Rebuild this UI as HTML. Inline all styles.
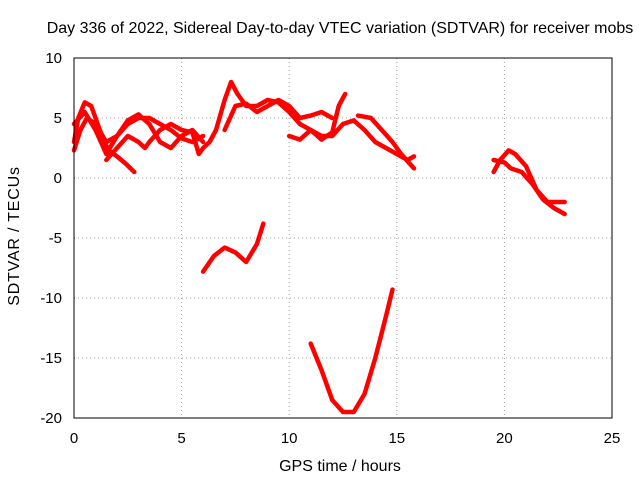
<!DOCTYPE html>
<html><head><meta charset="utf-8"><style>
body{margin:0;background:#fff}
svg{font-family:"Liberation Sans",sans-serif;font-size:15px}
</style></head><body>
<svg id="c" width="640" height="480">
<rect width="640" height="480" fill="#fff"/>
<text x="340" y="33" text-anchor="middle" style="font-size:16px">Day 336 of 2022, Sidereal Day-to-day VTEC variation (SDTVAR) for receiver mobs</text>
<text x="340" y="471" text-anchor="middle" style="font-size:16px">GPS time / hours</text>
<text transform="translate(19,236) rotate(-90)" text-anchor="middle" style="font-size:16px;letter-spacing:0.8px">SDTVAR / TECUs</text>
<g id="grid"></g><g id="ticks"></g><g id="series"></g>
<rect x="74" y="58" width="538" height="360" fill="none" stroke="#000"/>
</svg>
<script>
const xTicks=[0,5,10,15,20,25];
const yTicks=[10,5,0,-5,-10,-15,-20];
const s1=[[0,3],[0.2,5],[0.5,6.3],[0.8,6],[1,5],[1.3,3.5],[1.6,2.3],[2,1.8],[2.4,1.2],[2.8,0.5]];
const s2=[[0,2.3],[0.3,4],[0.6,5],[1,4.5],[1.5,3],[2,3.5],[2.5,4.5],[3,5],[3.5,5],[4,4.5],[4.5,4],[5,3.3],[5.5,3],[6,3.5]];
const s3=[[0,4.5],[0.5,5.5],[1,4],[1.5,2],[2,3.5],[2.5,4.8],[3,5.3],[3.5,4.5],[4,3],[4.5,2.5],[5,3.5],[5.5,4],[6,3]];
const s4=[[1.5,1.5],[2,2.5],[2.5,3.5],[3,3],[3.3,2.5],[3.5,3],[4,4],[4.5,4.5],[5,4],[5.5,3.8],[5.8,2],[6,2.5],[6.3,3],[6.6,4],[7,6.5],[7.3,8],[7.6,7],[8,6],[8.5,6],[9,6.5],[9.5,6.3],[10,5.5],[10.5,4.5],[11,4],[11.5,3.5],[12,3.5],[12.5,4.5],[13,4.8],[13.5,4],[14,3],[14.5,2.5],[15,2],[15.5,1.5],[15.8,1.8]];
const s5=[[7,4],[7.5,6],[8,6.2],[8.5,5.5],[9,6],[9.5,6.5],[10,6],[10.5,5],[11,5.2],[11.5,5.5],[12,5]];
const s6=[[10,3.5],[10.5,3.2],[11,4],[11.5,3.2],[12,3.8],[12.3,6],[12.6,7]];
const s7=[[13.2,5.2],[13.8,5],[14.3,4],[14.8,3],[15.2,2],[15.6,1.2],[15.8,0.8]];
const s8=[[19.5,1.5],[20,1.3],[20.3,0.8],[20.8,0.5],[21.3,-0.5],[21.8,-1.8],[22.3,-2.5],[22.8,-3]];
const s9=[[19.5,0.5],[19.8,1.5],[20.2,2.3],[20.5,2],[21,1],[21.5,-1],[22,-2],[22.5,-2],[22.8,-2]];
const s10=[[6,-7.8],[6.5,-6.5],[7,-5.8],[7.5,-6.2],[8,-7],[8.5,-5.5],[8.8,-3.8]];
const s11=[[11,-13.8],[11.5,-16],[12,-18.5],[12.5,-19.5],[13,-19.5],[13.5,-18],[14,-15],[14.5,-11.5],[14.8,-9.3]];
const allSeries=[s1,s2,s3,s4,s5,s6,s7,s8,s9,s10,s11];
const X=v=>74+v*538/25, Y=v=>58+(10-v)*12;
const NS='http://www.w3.org/2000/svg';
const g=document.getElementById('grid'),t=document.getElementById('ticks'),se=document.getElementById('series');
function mk(tag,a,p){const e=document.createElementNS(NS,tag);for(const k in a)e.setAttribute(k,a[k]);p.appendChild(e);return e;}
xTicks.forEach(v=>{
 if(v>0&&v<25){const l=mk('line',{x1:X(v),x2:X(v),y1:58,y2:418,stroke:'#a0a0a0','stroke-dasharray':'1,3'},g);
 
 }
 const tx=mk('text',{x:X(v),y:443,'text-anchor':'middle'},t);tx.textContent=v;
 
 
});
yTicks.forEach(v=>{
 if(v<10&&v>-20){const l=mk('line',{x1:74,x2:612,y1:Y(v),y2:Y(v),stroke:'#a0a0a0','stroke-dasharray':'1,3'},g);
 
 }
 const tx=mk('text',{x:62,y:Y(v)+5,'text-anchor':'end'},t);tx.textContent=v;
 
 
});
allSeries.forEach((s,i)=>{
 const p=mk('polyline',{points:s.map(d=>X(d[0])+','+Y(d[1])).join(' '),fill:'none',stroke:'#ff0000','stroke-width':4.5,'stroke-linejoin':'round','stroke-linecap':'round'},se);
 
 
});
</script>
</body></html>
